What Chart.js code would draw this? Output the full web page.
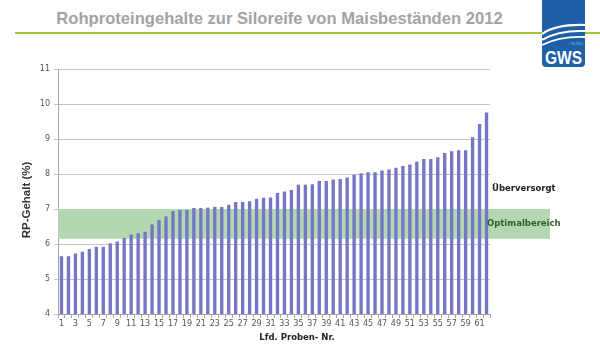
<!DOCTYPE html>
<html>
<head>
<meta charset="utf-8">
<script src="https://cdn.jsdelivr.net/npm/chart.js@4"></script>
<style>
  html, body { margin: 0; padding: 0; background: #fff; }
  #wrap { position: relative; width: 600px; height: 345px; overflow: hidden; }
  #title { position: absolute; left: 0; top: 9px; width: 559px; text-align: center;
           font: bold 16.6px "Liberation Sans", Arial, sans-serif; color: #a3a3a3; white-space: nowrap; }
  #rule { position: absolute; left: 15px; top: 32px; width: 585px; height: 2px; background: #a3c639; }
  #logo { position: absolute; left: 542px; top: 0; }
  canvas { position: absolute; left: 0; top: 0; }
</style>
</head>
<body>
<div id="wrap">
  <div id="rule"></div>
  <div id="title">Rohproteingehalte zur Siloreife von Maisbeständen 2012</div>
  <svg id="logo" width="44" height="68" viewBox="0 0 44 68">
    <path d="M0,0 H43 V63 Q43,67 39,67 H4 Q0,67 0,63 Z" fill="#1d5fa9"/>
    <path d="M0,34 Q14,24 43,25" stroke="#fff" stroke-width="2.2" fill="none"/>
    <path d="M0,40 Q16,30 43,31" stroke="#fff" stroke-width="2" fill="none"/>
    <path d="M0,45 Q18,36 43,37" stroke="#fff" stroke-width="1.8" fill="none"/>
    <text x="29" y="45" font-family="Liberation Sans, Arial" font-size="4" fill="#8fb3de">NORD</text>
    <text x="3" y="64" font-family="Liberation Sans Narrow, Liberation Sans, Arial" font-weight="bold" font-size="19" fill="#fff" textLength="37" lengthAdjust="spacingAndGlyphs">GWS</text>
  </svg>
  <canvas id="c" width="600" height="345"></canvas>
</div>
<script>
const categories = ["1","2","3","4","5","6","7","8","9","10","11","12","13","14","15","16","17","18","19","20",
  "21","22","23","24","25","26","27","28","29","30","31","32","33","34","35","36","37","38","39","40",
  "41","42","43","44","45","46","47","48","49","50","51","52","53","54","55","56","57","58","59","60","61","62"];
const rpValues = [5.65,5.65,5.73,5.78,5.86,5.92,5.92,6.02,6.07,6.17,
  6.27,6.31,6.35,6.56,6.69,6.79,6.94,6.97,6.97,7.03,
  7.03,7.04,7.06,7.06,7.12,7.20,7.20,7.22,7.29,7.32,
  7.33,7.46,7.50,7.54,7.69,7.69,7.71,7.80,7.80,7.84,
  7.86,7.90,7.98,8.02,8.05,8.05,8.10,8.13,8.18,8.23,
  8.27,8.35,8.43,8.43,8.48,8.60,8.65,8.68,8.68,9.05,9.43,9.76];
const optimalRange = [6.15, 7.0];
const yTicks = [4, 5, 6, 7, 8, 9, 10, 11];
const xTitle = "Lfd. Proben- Nr.";
const yTitle = "RP-Gehalt (%)";
const zoneLabels = ["Überversorgt", "Optimalbereich"];

const bandPlugin = {
  id: 'band',
  beforeDatasetsDraw(chart) {
    const { ctx, chartArea, scales } = chart;
    const yTop = scales.y.getPixelForValue(optimalRange[1]);
    const yBot = scales.y.getPixelForValue(optimalRange[0]);
    ctx.save();
    ctx.fillStyle = '#b3d8b1';
    ctx.fillRect(chartArea.left, yTop, 550 - chartArea.left, yBot - yTop);
    ctx.restore();
  },
  afterDraw(chart) {
    const { ctx, chartArea, scales } = chart;
    ctx.save();
    ctx.textBaseline = 'middle';
    ctx.textAlign = 'left';
    ctx.font = 'bold 8.5px "DejaVu Sans", sans-serif';
    ctx.fillStyle = '#222';
    ctx.fillText(zoneLabels[0], 492, scales.y.getPixelForValue(7.57));
    ctx.fillStyle = '#2f5e2f';
    ctx.fillText(zoneLabels[1], 487, scales.y.getPixelForValue((optimalRange[0] + optimalRange[1]) / 2));
    ctx.textAlign = 'center';
    ctx.fillStyle = '#222';
    ctx.font = 'bold 8.5px "DejaVu Sans", sans-serif';
    ctx.fillText(xTitle, 297, 338);
    ctx.translate(27, 200);
    ctx.rotate(-Math.PI / 2);
    ctx.font = 'bold 11.5px "Liberation Sans", Arial, sans-serif';
    ctx.fillStyle = '#333';
    ctx.fillText(yTitle, 0, 0);
    ctx.restore();
  }
};

new Chart(document.getElementById('c'), {
  type: 'bar',
  data: {
    labels: categories,
    datasets: [{
      data: rpValues,
      backgroundColor: '#7676c6',
      borderWidth: 0,
      barPercentage: 0.48,
      categoryPercentage: 1.0
    }]
  },
  options: {
    responsive: false,
    animation: false,
    events: [],
    layout: { padding: { left: 0, right: 110, top: 69, bottom: 0 } },
    plugins: { legend: { display: false }, tooltip: { enabled: false }, title: { display: false } },
    scales: {
      x: {
        afterFit(s) { s.height = 31; },
        grid: { display: true, drawOnChartArea: false, drawTicks: true, tickLength: 4, offset: true, color: '#a6a6a6' },
        border: { display: true, color: '#a6a6a6' },
        ticks: {
          autoSkip: false, maxRotation: 0, minRotation: 0, padding: 1,
          color: '#555', font: { family: '"DejaVu Sans", sans-serif', size: 8 },
          callback(v, i) { return i % 2 === 0 ? categories[i] : ''; }
        }
      },
      y: {
        min: yTicks[0], max: yTicks[yTicks.length - 1],
        afterFit(s) { s.width = 58; },
        afterBuildTicks(s) { s.ticks = yTicks.map(v => ({ value: v })); },
        grid: { color: '#c4c4c4', tickLength: 4, drawTicks: true },
        border: { display: true, color: '#a6a6a6' },
        ticks: { padding: 4, color: '#555', font: { family: '"DejaVu Sans", sans-serif', size: 8 } }
      }
    }
  },
  plugins: [bandPlugin]
});
</script>
</body>
</html>
